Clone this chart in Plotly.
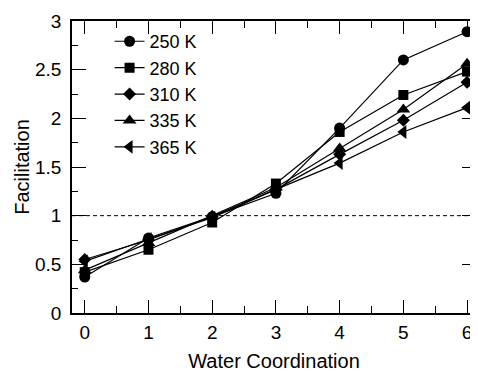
import plotly.graph_objects as go

water_coordination = [0, 1, 2, 3, 4, 5, 6]
series_names = ["250 K", "280 K", "310 K", "335 K", "365 K"]
facil_250 = [0.37, 0.77, 0.99, 1.23, 1.90, 2.60, 2.89]
facil_280 = [0.42, 0.65, 0.93, 1.33, 1.86, 2.24, 2.48]
facil_310 = [0.55, 0.75, 0.99, 1.27, 1.63, 1.98, 2.37]
facil_335 = [0.44, 0.72, 1.00, 1.29, 1.69, 2.09, 2.56]
facil_365 = [0.53, 0.76, 0.98, 1.27, 1.54, 1.86, 2.11]
reference_level = 1.0
x_tick_labels = ["0", "1", "2", "3", "4", "5", "6"]
y_tick_vals = [0, 0.5, 1, 1.5, 2, 2.5, 3]
y_tick_labels = ["0", "0.5", "1", "1.5", "2", "2.5", "3"]

series_values = [facil_250, facil_280, facil_310, facil_335, facil_365]
symbols = ["circle", "square", "diamond", "triangle-up", "triangle-left"]
sizes = [11, 10, 10, 12, 12]

FONT = "Liberation Sans, Arial, Helvetica, sans-serif"

fig = go.Figure()
for name, vals, sym, sz in zip(series_names, series_values, symbols, sizes):
    fig.add_trace(go.Scatter(
        x=water_coordination, y=vals, name=name, mode="lines+markers",
        line=dict(color="black", width=1.2),
        marker=dict(symbol=sym, size=sz, color="black"),
    ))

fig.add_shape(type="line", xref="paper", x0=0, x1=1, yref="y",
              y0=reference_level, y1=reference_level,
              line=dict(color="black", width=1, dash="4px,3px"), layer="below")

# the page body has an 8px margin; size the figure so the plot area lands where the reference has it
fig.update_layout(
    width=470, height=365,
    margin=dict(l=64, r=0, t=13, b=60),
    paper_bgcolor="white", plot_bgcolor="white",
    font=dict(family=FONT, color="black", size=19),
    showlegend=True,
    legend=dict(x=0.093, y=0.993, xanchor="left", yanchor="top",
                bgcolor="rgba(0,0,0,0)", font=dict(size=18),
                itemwidth=30, tracegroupgap=0),
    xaxis=dict(
        range=[-0.2, 6.14], tickvals=water_coordination, ticktext=x_tick_labels,
        ticks="inside", ticklen=13, tickwidth=1.3, tickcolor="black",
        minor=dict(dtick=0.5, ticks="inside", ticklen=7, tickwidth=1.3, tickcolor="black"),
        showline=True, linecolor="black", linewidth=1.5, mirror="ticks",
        showgrid=False, zeroline=False, ticklabelstandoff=1,
        title=dict(text="Water Coordination", font=dict(size=20), standoff=12),
        tickfont=dict(size=19),
    ),
    yaxis=dict(
        range=[0, 3], tickvals=y_tick_vals, ticktext=y_tick_labels,
        ticks="inside", ticklen=14, tickwidth=1.3, tickcolor="black",
        minor=dict(dtick=0.25, ticks="inside", ticklen=6, tickwidth=1.3, tickcolor="black"),
        showline=True, linecolor="black", linewidth=1.5, mirror="ticks",
        showgrid=False, zeroline=False, ticklabelstandoff=5,
        title=dict(text="Facilitation", font=dict(size=20), standoff=0),
        tickfont=dict(size=19),
    ),
)

fig.write_html("out.html")
